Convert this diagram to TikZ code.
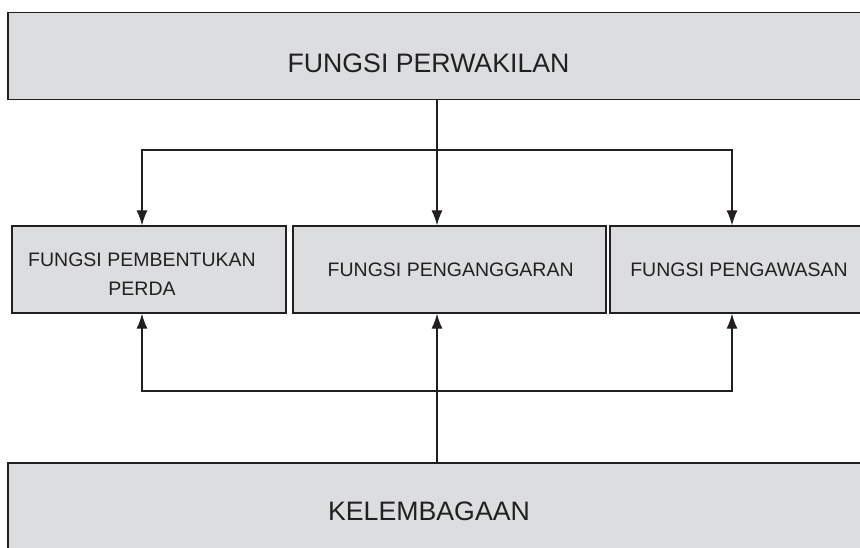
\documentclass[tikz,border=0pt]{standalone}
\usepackage{fontspec}
\setmainfont{Liberation Sans}
\usetikzlibrary{arrows.meta}
\definecolor{boxgray}{HTML}{DCDDDF}
\definecolor{inkblack}{HTML}{231F20}

\begin{document}
\begin{tikzpicture}[x=1pt,y=-1pt,
  box/.style={draw=inkblack, line width=1.3pt, fill=boxgray, inner sep=0pt, minimum height=87pt},
  bigtext/.style={text=inkblack, font=\fontsize{26.7}{32}\selectfont, inner sep=0pt, anchor=base},
  smalltext/.style={text=inkblack, font=\fontsize{19.5}{29}\selectfont, inner sep=0pt, anchor=base},
  arr/.style={draw=inkblack, line width=1.2pt, -{Latex[length=15pt,width=11pt]}}]
\useasboundingbox (0,0) rectangle (860,547);
\clip (0,0) rectangle (860,547);
% the boxes
\node [box, minimum width=872pt] (perwakilan) at (444,55.75) {};
\node [box, minimum width=274pt] (pembentukan) at (149,269.5) {};
\node [box, minimum width=313pt] (penganggaran) at (449.5,269.5) {};
\node [box, minimum width=270pt] (pengawasan) at (745,269.5) {};
\node [box, minimum width=872pt, minimum height=94pt] (kelembagaan) at (444,510) {};
% the texts
\node [bigtext] (perwakilan-txt) at (428.5,72) {FUNGSI PERWAKILAN};
\node [smalltext] (pembentukan-txt) at (142,266) {FUNGSI PEMBENTUKAN};
\node [smalltext] (perda-txt) at (142,295) {PERDA};
\node [smalltext] (penganggaran-txt) at (450.7,276) {FUNGSI PENGANGGARAN};
\node [smalltext] (pengawasan-txt) at (739,276) {FUNGSI PENGAWASAN};
\node [bigtext] (kelembagaan-txt) at (429,520) {KELEMBAGAAN};
% where the lines split
\coordinate (hubtop) at (437,150);
\coordinate (hubbot) at (437,391);
\coordinate (colA) at (142,0);
\coordinate (colC) at (732,0);
% from the top
\draw [arr] (perwakilan.south -| hubtop) -- (penganggaran.north -| hubtop);
\draw [arr] (hubtop) -| (pembentukan.north -| colA);
\draw [arr] (hubtop) -| (pengawasan.north -| colC);
% from the bottom
\draw [arr] (kelembagaan.north -| hubbot) -- (penganggaran.south -| hubbot);
\draw [arr] (hubbot) -| (pembentukan.south -| colA);
\draw [arr] (hubbot) -| (pengawasan.south -| colC);
\end{tikzpicture}
\end{document}
